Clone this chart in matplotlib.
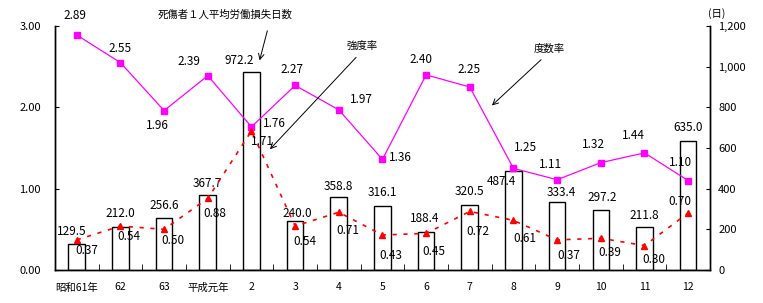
import numpy as np
import matplotlib
matplotlib.use("Agg")
import matplotlib.pyplot as plt
from matplotlib.ticker import FuncFormatter, FixedLocator

plt.rcParams['font.family'] = ['Noto Sans CJK JP', 'DejaVu Sans']

years = ["昭和61年", "62", "63", "平成元年", "2", "3", "4", "5", "6", "7", "8", "9", "10", "11", "12"]
freq_rate = [2.89, 2.55, 1.96, 2.39, 1.76, 2.27, 1.97, 1.36, 2.40, 2.25, 1.25, 1.11, 1.32, 1.44, 1.10]
sev_rate = [0.37, 0.54, 0.50, 0.88, 1.71, 0.54, 0.71, 0.43, 0.45, 0.72, 0.61, 0.37, 0.39, 0.30, 0.70]
lost_days = [129.5, 212.0, 256.6, 367.7, 972.2, 240.0, 358.8, 316.1, 188.4, 320.5, 487.4, 333.4, 297.2, 211.8, 635.0]

# label offsets in pixels (dx, dy)
freq_off = [(-2, 20), (0, 14), (-7, -15), (-19, 14), (23, 3), (-3, 16), (23, 10), (18, 2),
            (-5, 15), (-1, 18), (12, 21), (-7, 15), (-7, 18), (-11, 17), (-8, 18)]
sev_off = [(10, -11), (8, -10), (9, -11), (7, -15), (11, -11), (10, -15), (9, -18), (8, -20),
           (8, -18), (8, -20), (11, -18), (12, -16), (9, -14), (9, -14), (-8, 12)]
bar_off = [(-5, 12), (0, 13), (0, 12), (0, 12), (-12, 12), (2, 8), (0, 11), (0, 13),
           (-1, 13), (0, 13), (-12, -11), (4, 10), (1, 12), (0, 11), (0, 13)]

x = np.arange(len(years))

fig = plt.figure(figsize=(7.63, 3.03), dpi=100)
ax = fig.add_axes([0.072, 0.109, 0.8585, 0.805])
ax2 = ax.twinx()
ax.set_zorder(ax2.get_zorder() + 1)
ax.patch.set_visible(False)

# bars (right axis)
ax2.bar(x, lost_days, width=0.38, color="white", edgecolor="black", linewidth=1.0)
ax2.set_ylim(0, 1200)
ax2.set_yticks(range(0, 1201, 200))
ax2.yaxis.set_major_formatter(FuncFormatter(lambda v, p: f"{int(v):,}"))
for xi, d, (dx, dy) in zip(x, lost_days, bar_off):
    ax2.annotate(f"{d:.1f}", (xi, d), xytext=(dx, dy), textcoords="offset pixels",
                 ha="center", va="center", fontsize=8.5)

# lines (left axis)
ax.plot(x, freq_rate, color="#FF00FF", lw=0.9, marker="s", ms=4.5)
ax.plot(x, sev_rate, color="#FF0000", lw=1.2, ls=(0, (2.5, 4)), marker="^", ms=5)
for xi, v, (dx, dy) in zip(x, freq_rate, freq_off):
    ax.annotate(f"{v:.2f}", (xi, v), xytext=(dx, dy), textcoords="offset pixels",
                ha="center", va="center", fontsize=8.5)
for xi, v, (dx, dy) in zip(x, sev_rate, sev_off):
    ax.annotate(f"{v:.2f}", (xi, v), xytext=(dx, dy), textcoords="offset pixels",
                ha="center", va="center", fontsize=8.5)

ax.set_ylim(0, 3.0)
ax.set_yticks([0, 1, 2, 3])
ax.yaxis.set_major_formatter(FuncFormatter(lambda v, p: f"{v:.2f}"))
ax.set_xlim(-0.5, len(years) - 0.5)
ax.set_xticks(x)
ax.set_xticklabels(years)
ax.xaxis.set_minor_locator(FixedLocator(np.arange(0.5, len(years) - 1, 1)))

for a in (ax, ax2):
    a.spines["top"].set_visible(False)
    for s in ("left", "right", "bottom"):
        a.spines[s].set_linewidth(1.0)
ax.tick_params(axis="y", direction="in", length=3, labelsize=8, pad=10)
ax2.tick_params(axis="y", direction="in", length=3, labelsize=8, pad=6)
ax.tick_params(axis="x", which="major", length=0, labelsize=7.5, pad=9)
ax.tick_params(axis="x", which="minor", direction="in", length=4)

# annotations
arrow = dict(arrowstyle="->", color="black", lw=0.7)
ax.text(3.39, 3.135, "死傷者１人平均労働損失日数", ha="center", va="center", fontsize=7.5, clip_on=False)
ax.annotate("", xy=(4.17, 2.545), xytext=(4.38, 2.975), arrowprops=arrow, annotation_clip=False)
ax.text(6.53, 2.754, "強度率", ha="center", va="center", fontsize=7.5)
ax.annotate("", xy=(4.38, 1.46), xytext=(6.44, 2.64), arrowprops=arrow)
ax.text(10.82, 2.72, "度数率", ha="center", va="center", fontsize=7.5)
ax.annotate("", xy=(9.46, 2.00), xytext=(10.68, 2.61), arrowprops=arrow)
ax.text(1.01, 1.05, "(日)", transform=ax.transAxes, ha="center", va="center", fontsize=7.5)

fig.savefig("out.png", dpi=100)
